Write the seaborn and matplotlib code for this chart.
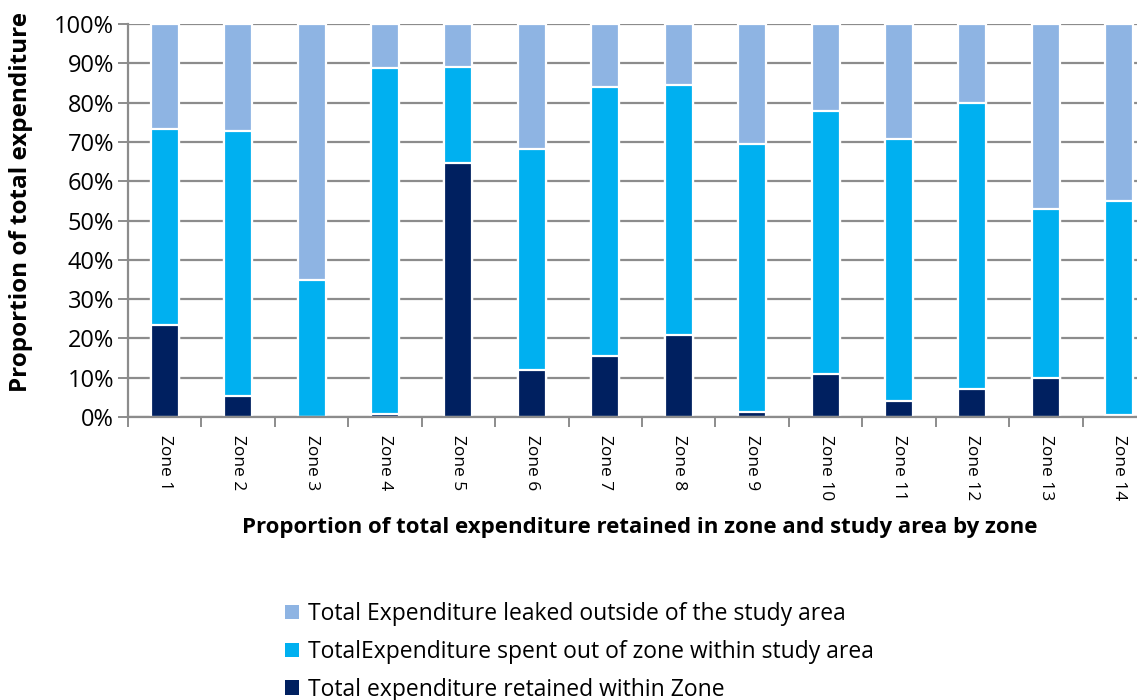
import matplotlib
matplotlib.use("Agg")
import matplotlib.pyplot as plt
import seaborn as sns
import pandas as pd
import numpy as np
from matplotlib.ticker import FixedLocator, PercentFormatter
from matplotlib.patches import Patch

# Share of expenditure by zone (percent)
zones = [f"Zone {i}" for i in range(1, 15)]
retained = [23.5, 5.3, 0.0, 0.7, 64.7, 12.0, 15.5, 20.9, 1.2, 10.9, 4.0, 7.0, 9.9, 0.6]
spent_in_area = [49.8, 67.6, 34.9, 88.2, 24.4, 56.2, 68.5, 63.6, 68.3, 66.9, 66.8, 72.8, 42.9, 54.3]
leaked = [26.7, 27.1, 65.1, 11.1, 10.9, 31.8, 16.0, 15.5, 30.5, 22.2, 29.2, 20.2, 47.2, 45.1]

series_names = [
    "Total Expenditure leaked outside of the study area",
    "TotalExpenditure spent out of zone within study area",
    "Total expenditure retained within Zone",
]
colors = ["#8EB4E3", "#00B0F0", "#002060"]

df = pd.DataFrame({"zone": zones, "retained": retained,
                   "spent": spent_in_area, "leaked": leaked})
df["top_spent"] = df["retained"] + df["spent"]
df["top_leaked"] = df["top_spent"] + df["leaked"]

sns.set_theme(style="white")
plt.rcParams["font.family"] = ["Open Sans", "DejaVu Sans"]
plt.rcParams["text.color"] = "black"
plt.rcParams["axes.labelcolor"] = "black"

fig = plt.figure(figsize=(11.37, 7.0), dpi=100)
ax = fig.add_axes([128 / 1137, 1 - 417 / 700, (1156 - 128) / 1137, (417 - 24) / 700])

grid_c = "#8C8C8C"
ax.set_axisbelow(True)
ax.yaxis.grid(True, color=grid_c, linewidth=1.6)

# Stacked bars: draw cumulative heights, tallest first
for col, c in zip(["top_leaked", "top_spent", "retained"], colors):
    sns.barplot(data=df, x="zone", y=col, color=c, width=0.38, ax=ax,
                edgecolor="white", linewidth=1.6, saturation=1)

ax.set_xlim(-0.5, 13.5)
ax.set_ylim(0, 100)
ax.yaxis.set_major_locator(FixedLocator(np.arange(0, 101, 10)))
ax.yaxis.set_major_formatter(PercentFormatter(decimals=0))

for s in ["top", "right"]:
    ax.spines[s].set_visible(False)
for s in ["left", "bottom"]:
    ax.spines[s].set_color(grid_c)
    ax.spines[s].set_linewidth(1.6)

ax.tick_params(axis="y", which="major", left=True, length=7, width=1.4,
               color=grid_c, labelsize=17, pad=3, labelcolor="black")
ax.tick_params(axis="x", which="major", bottom=False, labelsize=12.5,
               labelrotation=-90, pad=7, labelcolor="black")
ax.xaxis.set_minor_locator(FixedLocator(np.arange(-0.5, 14, 1)))
ax.tick_params(axis="x", which="minor", bottom=True, length=7, width=1.4,
               color=grid_c)
for lab in ax.get_xticklabels():
    lab.set_verticalalignment("top")

ax.set_xlabel("")
ax.set_ylabel("Proportion of total expenditure", fontsize=17.5,
              fontweight="bold")
ax.yaxis.set_label_coords(-0.092, 0.548)

fig.text(640 / 1137, 1 - 527 / 700,
         "Proportion of total expenditure retained in zone and study area by zone",
         ha="center", va="center", fontsize=16, fontweight="bold")

handles = [Patch(facecolor=c, edgecolor="none") for c in colors]
fig.legend(handles, series_names, loc="upper left",
           bbox_to_anchor=(276 / 1137, 1 - 593 / 700), frameon=False,
           fontsize=16.5, handlelength=0.6, handleheight=0.6,
           handletextpad=0.4, labelspacing=0.6, borderaxespad=0)

fig.savefig("out.png", dpi=100)
